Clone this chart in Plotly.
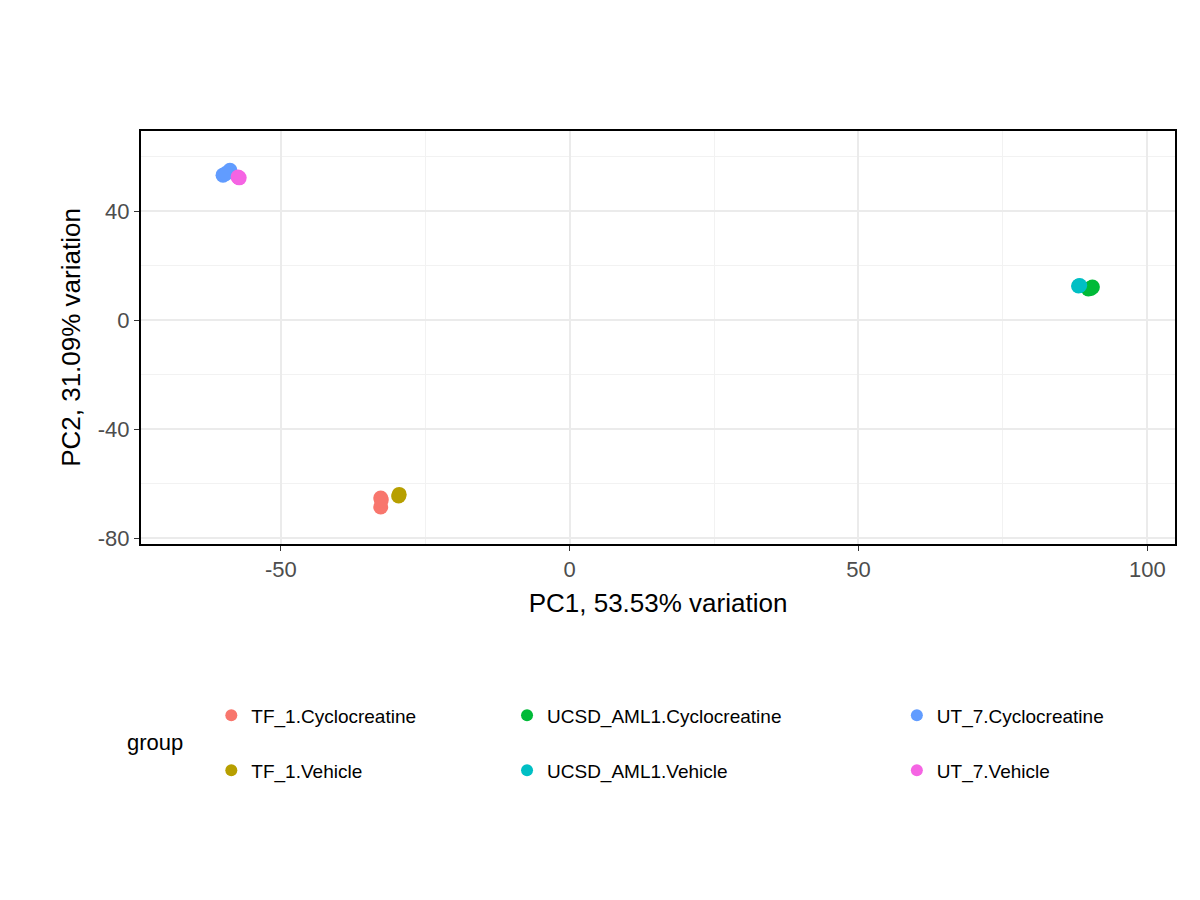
import plotly.graph_objects as go

groups = ["TF_1.Cyclocreatine", "TF_1.Vehicle", "UCSD_AML1.Cyclocreatine",
          "UCSD_AML1.Vehicle", "UT_7.Cyclocreatine", "UT_7.Vehicle"]
colors = ["#F8766D", "#B79F00", "#00BA38", "#00BFC4", "#619CFF", "#F564E3"]
pc1 = {
    "TF_1.Cyclocreatine": [-32.7, -32.7, -32.6],
    "TF_1.Vehicle": [-29.6, -29.5],
    "UCSD_AML1.Cyclocreatine": [89.8, 90.5, 90.2],
    "UCSD_AML1.Vehicle": [88.1, 88.3],
    "UT_7.Cyclocreatine": [-60.0, -58.8, -59.5],
    "UT_7.Vehicle": [-57.4, -57.2],
}
pc2 = {
    "TF_1.Cyclocreatine": [-65.3, -68.6, -66.0],
    "TF_1.Vehicle": [-64.6, -64.0],
    "UCSD_AML1.Cyclocreatine": [11.4, 12.1, 11.6],
    "UCSD_AML1.Vehicle": [12.5, 12.7],
    "UT_7.Cyclocreatine": [53.2, 55.0, 53.8],
    "UT_7.Vehicle": [52.5, 52.2],
}
x_ticks = [-50, 0, 50, 100]
y_ticks = [-80, -40, 0, 40]

fig = go.Figure()
legend_ids = ["legend", "legend2", "legend3", "legend4", "legend5", "legend6"]
for g, c, lid in zip(groups, colors, legend_ids):
    fig.add_trace(go.Scatter(x=pc1[g], y=pc2[g], mode="markers", name=g, legend=lid,
                             marker=dict(color=c, size=15)))

axis_common = dict(showline=True, linecolor="black", linewidth=2, mirror=True,
                   gridcolor="#EBEBEB", gridwidth=2.2, zeroline=False,
                   ticks="outside", ticklen=5, tickcolor="#333333",
                   tickfont=dict(size=22, color="#4D4D4D"))

# legend placement in 3 columns x 2 rows (paper coords)
col_x = [0.068, 0.354, 0.731]
row_y = [-0.415, -0.548]
leg_font = dict(size=19)
legends = {}
for i, lid in enumerate(legend_ids):
    legends[lid] = dict(x=col_x[i // 2], y=row_y[i % 2], xanchor="left", yanchor="middle",
                        font=leg_font, itemsizing="constant", bgcolor="rgba(0,0,0,0)")

fig.update_layout(
    width=1200, height=900,
    plot_bgcolor="white", paper_bgcolor="white",
    font=dict(family="Liberation Sans, Arial, sans-serif", color="black"),
    margin=dict(l=133, r=33, t=123, b=364),
    xaxis=dict(range=[-74.2, 104.8], tickvals=x_ticks, ticktext=[str(v) for v in x_ticks],
               title=dict(text="PC1, 53.53% variation", font=dict(size=26), standoff=12),
               minor=dict(dtick=25, tick0=-75, showgrid=True, gridcolor="#F2F2F2", gridwidth=1),
               **axis_common),
    yaxis=dict(range=[-82.2, 69.4], tickvals=y_ticks, ticktext=[str(v) for v in y_ticks],
               title=dict(text="PC2, 31.09% variation", font=dict(size=26), standoff=10),
               minor=dict(dtick=20, tick0=-60, showgrid=True, gridcolor="#F2F2F2", gridwidth=1),
               **axis_common),
    showlegend=True,
    **legends,
)
fig.add_annotation(text="group", xref="paper", yref="paper", x=-0.015, y=-0.48,
                   xanchor="left", yanchor="middle", showarrow=False, font=dict(size=22))

fig.write_html("out.html")
